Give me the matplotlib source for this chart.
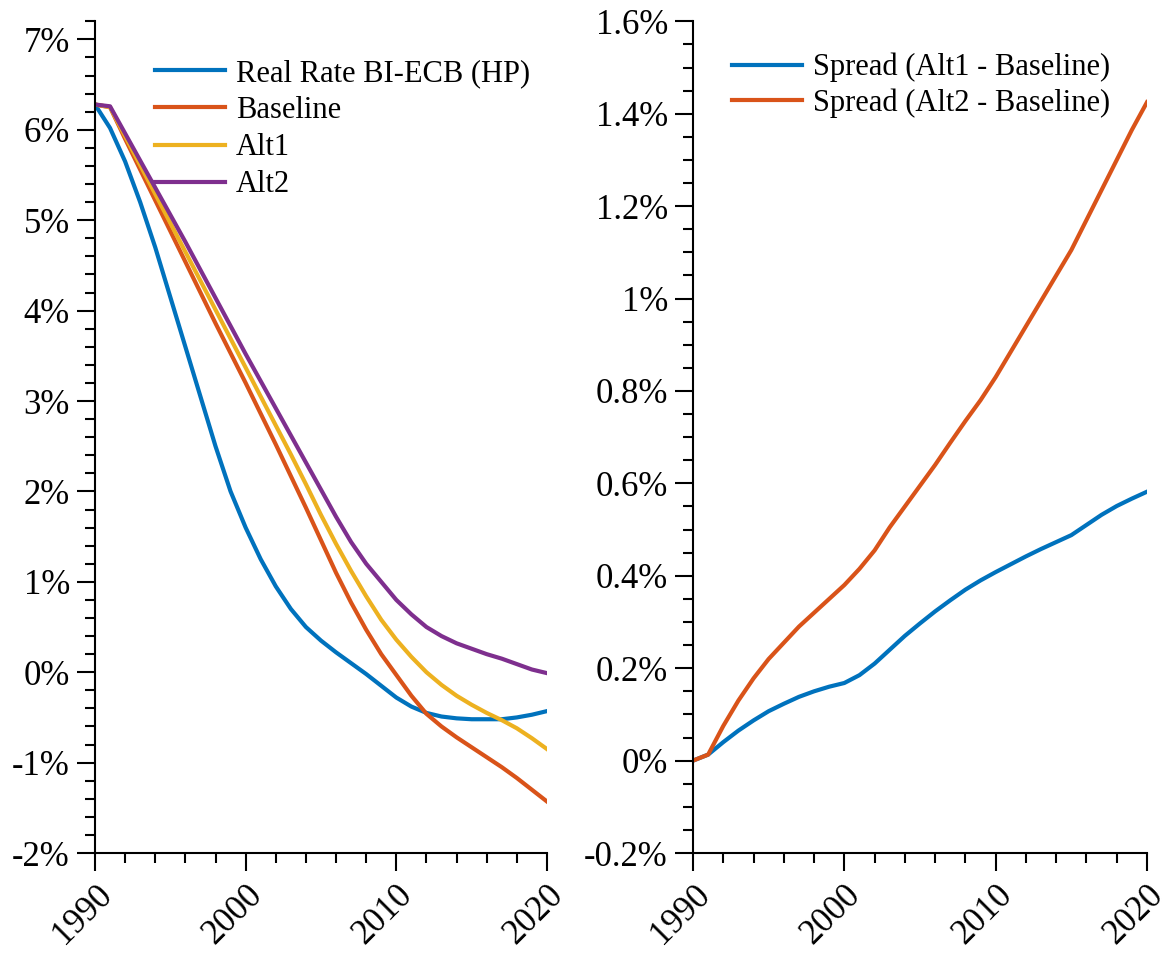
import matplotlib
matplotlib.use("Agg")
import matplotlib.pyplot as plt
from matplotlib.ticker import MultipleLocator, FuncFormatter

plt.rcParams['font.family'] = ['Liberation Serif', 'DejaVu Serif']
plt.rcParams['axes.unicode_minus'] = False

# data
years = list(range(1990, 2021))

real_rate = [6.28, 6.02, 5.65, 5.2, 4.7, 4.15, 3.6, 3.05, 2.5, 2.0,
             1.6, 1.25, 0.95, 0.7, 0.5, 0.35, 0.22, 0.1, -0.02, -0.15,
             -0.28, -0.38, -0.45, -0.49, -0.51, -0.52, -0.52, -0.52, -0.5, -0.47,
             -0.43]
baseline = [6.28, 6.25, 5.9, 5.56, 5.22, 4.88, 4.54, 4.2, 3.86, 3.53,
            3.2, 2.86, 2.52, 2.17, 1.82, 1.46, 1.1, 0.77, 0.47, 0.2,
            -0.03, -0.26, -0.46, -0.6, -0.72, -0.83, -0.94, -1.05, -1.17, -1.3,
            -1.43]
alt1 = [6.28, 6.25, 5.93, 5.61, 5.29, 4.97, 4.65, 4.33, 4.01, 3.69,
        3.37, 3.05, 2.73, 2.41, 2.08, 1.74, 1.42, 1.12, 0.84, 0.58,
        0.36, 0.17, 0.0, -0.14, -0.26, -0.36, -0.45, -0.53, -0.62, -0.73,
        -0.85]
alt2 = [6.28, 6.26, 5.96, 5.66, 5.36, 5.06, 4.76, 4.45, 4.14, 3.83,
        3.52, 3.22, 2.92, 2.62, 2.32, 2.02, 1.72, 1.44, 1.2, 1.0,
        0.8, 0.64, 0.5, 0.4, 0.32, 0.26, 0.2, 0.15, 0.09, 0.03,
        -0.01]

spread_alt1 = [0, 0.013, 0.04, 0.065, 0.087, 0.107, 0.123, 0.138, 0.15, 0.16,
               0.168, 0.185, 0.21, 0.24, 0.27, 0.297, 0.323, 0.347, 0.37, 0.39,
               0.408, 0.425, 0.442, 0.458, 0.473, 0.488, 0.51, 0.532, 0.551, 0.567,
               0.582]
spread_alt2 = [0, 0.013, 0.075, 0.13, 0.178, 0.22, 0.255, 0.29, 0.32, 0.35,
               0.38, 0.415, 0.455, 0.505, 0.55, 0.595, 0.64, 0.688, 0.735, 0.78,
               0.83, 0.885, 0.94, 0.995, 1.05, 1.105, 1.17, 1.235, 1.3, 1.365,
               1.425]

blue = '#0072BD'
orange = '#D95319'
yellow = '#EDB120'
purple = '#7E2F8E'

fs = 22
lw = 3


def style_axis(ax, ylim, major, minor):
    ax.set_xlim(1990, 2020)
    ax.set_ylim(*ylim)
    ax.spines['top'].set_visible(False)
    ax.spines['right'].set_visible(False)
    ax.spines['left'].set_linewidth(1.5)
    ax.spines['bottom'].set_linewidth(1.5)
    ax.xaxis.set_major_locator(MultipleLocator(10))
    ax.xaxis.set_minor_locator(MultipleLocator(2))
    ax.yaxis.set_major_locator(MultipleLocator(major))
    ax.yaxis.set_minor_locator(MultipleLocator(minor))
    ax.yaxis.set_major_formatter(FuncFormatter(lambda v, p: f"{round(v, 6):g}%"))
    ax.tick_params(which='major', direction='out', length=13, width=1.5,
                   labelsize=25, pad=5)
    ax.tick_params(which='minor', direction='out', length=7, width=1.5)
    for lab in ax.get_xticklabels():
        lab.set_rotation(45)
        lab.set_ha('right')
        lab.set_rotation_mode('anchor')


fig = plt.figure(figsize=(11.71, 9.56), dpi=100)
ax1 = fig.add_axes([0.0811, 0.1077, 0.386, 0.870])
ax2 = fig.add_axes([0.5918, 0.1077, 0.3877, 0.870])

ax1.plot(years, real_rate, color=blue, lw=lw, label='Real Rate BI-ECB (HP)')
ax1.plot(years, baseline, color=orange, lw=lw, label='Baseline')
ax1.plot(years, alt1, color=yellow, lw=lw, label='Alt1')
ax1.plot(years, alt2, color=purple, lw=lw, label='Alt2')
style_axis(ax1, (-2, 7.2), 1, 0.2)
ax1.legend(loc='upper left', bbox_to_anchor=(0.133, 0.955), frameon=False,
           fontsize=fs, borderpad=0, handlelength=2.3, handletextpad=0.35,
           labelspacing=0.27, borderaxespad=0)

ax2.plot(years, spread_alt1, color=blue, lw=lw, label='Spread (Alt1 - Baseline)')
ax2.plot(years, spread_alt2, color=orange, lw=lw, label='Spread (Alt2 - Baseline)')
style_axis(ax2, (-0.2, 1.6), 0.2, 0.05)
ax2.legend(loc='upper left', bbox_to_anchor=(0.086, 0.962), frameon=False,
           fontsize=fs, borderpad=0, handlelength=2.3, handletextpad=0.35,
           labelspacing=0.2, borderaxespad=0)

fig.savefig('out.png', dpi=100)
